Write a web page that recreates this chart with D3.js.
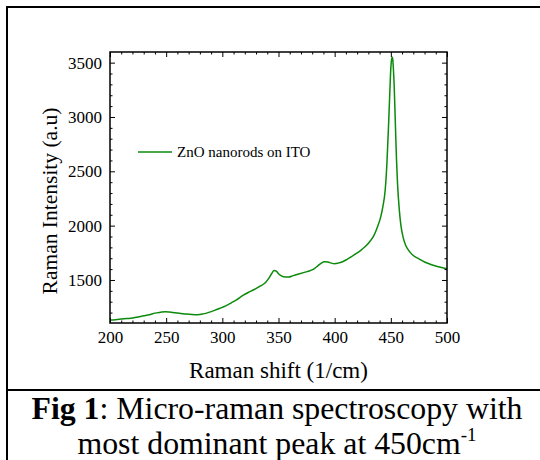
<!DOCTYPE html>
<html>
<head>
<meta charset="utf-8">
<script src="https://cdn.jsdelivr.net/npm/d3@7/dist/d3.min.js"></script>
<style>
  html, body { margin: 0; padding: 0; background: #fff; }
  svg { display: block; }
  svg text { font-family: "Liberation Serif", "Times New Roman", serif; fill: #000; }
</style>
</head>
<body>
<svg id="chart" width="540" height="460"></svg>
<script>
// Raman spectrum of ZnO nanorods grown on ITO
const shift = [200, 205, 210, 215, 220, 225, 230, 235, 240, 245, 249, 253, 258, 263, 268, 273, 278, 283, 288, 293,
  298, 303, 308, 313, 318, 323, 328, 333, 338, 341, 344, 346, 348, 350, 353, 356, 359, 363, 368, 373,
  378, 382, 385, 388, 391, 394, 397, 400, 403, 407, 411, 415, 419, 423, 427, 431, 435, 438, 441, 443,
  445, 446.5, 448, 449, 450, 451, 451.5, 452, 453, 454, 455, 456, 457.5, 459, 461, 463, 466, 470, 475, 480,
  485, 490, 495, 500];
const intensity = [1132, 1135, 1140, 1145, 1150, 1160, 1170, 1180, 1195, 1203, 1208, 1205, 1198, 1192, 1186, 1182, 1180, 1188, 1202, 1220,
  1240, 1262, 1290, 1320, 1355, 1385, 1410, 1440, 1472, 1510, 1560, 1588, 1582, 1558, 1535, 1527, 1527, 1540, 1555, 1570,
  1585, 1605, 1630, 1655, 1668, 1665, 1655, 1650, 1655, 1668, 1690, 1715, 1742, 1770, 1805, 1850, 1910, 1985, 2080, 2180,
  2330, 2570, 2930, 3200, 3450, 3545, 3550, 3490, 3280, 2950, 2620, 2380, 2150, 2000, 1890, 1825, 1770, 1725, 1695, 1665,
  1645, 1628, 1615, 1602];

const seriesName = "ZnO nanorods on ITO";
const xMajor = [200, 250, 300, 350, 400, 450, 500];
const yMajor = [1500, 2000, 2500, 3000, 3500];
const xTitle = "Raman shift (1/cm)";
const yTitle = "Raman Intensity (a.u)";

const SERIF = "Liberation Serif, Times New Roman, serif";
const svg = d3.select("#chart").attr("font-family", SERIF);
const plot = { left: 110, right: 447, top: 52, bottom: 323 };

const x = d3.scaleLinear().domain([200, 500]).range([plot.left, plot.right]);
const y = d3.scaleLinear().domain([1104, 3598]).range([plot.bottom, plot.top]);

const xMinor = d3.range(200, 501, 10).filter(v => !xMajor.includes(v));
const yMinor = d3.range(1200, 3599, 100).filter(v => !yMajor.includes(v));

// figure frame: left and top rules plus the caption divider
svg.append("line").attr("x1", 7).attr("y1", 6).attr("x2", 7).attr("y2", 460)
  .attr("stroke", "#000").attr("stroke-width", 2);
svg.append("line").attr("x1", 6).attr("y1", 7).attr("x2", 540).attr("y2", 7)
  .attr("stroke", "#000").attr("stroke-width", 2);
svg.append("line").attr("x1", 6).attr("y1", 390).attr("x2", 540).attr("y2", 390)
  .attr("stroke", "#000").attr("stroke-width", 2);

// spectrum
const line = d3.line().x((d, i) => x(shift[i])).y(d => y(d)).curve(d3.curveMonotoneX);
svg.append("path").datum(intensity)
  .attr("d", line)
  .attr("fill", "none")
  .attr("stroke", "#0b8a0b")
  .attr("stroke-width", 1.5)
  .attr("stroke-linejoin", "round");

// axes with inward ticks on all four sides
function styleAxis(g) {
  g.attr("font-family", SERIF).attr("font-size", 17);
  g.select(".domain").remove();
  g.selectAll(".tick line").attr("stroke", "#000").attr("stroke-width", 1);
  g.selectAll(".tick text").attr("font-family", SERIF).attr("fill", "#000");
}

const axes = [
  [d3.axisBottom, x, "translate(0," + plot.bottom + ")", true],
  [d3.axisTop, x, "translate(0," + plot.top + ")", false],
  [d3.axisLeft, y, "translate(" + plot.left + ",0)", true],
  [d3.axisRight, y, "translate(" + plot.right + ",0)", false]
];
axes.forEach(([make, scale, tr, labelled]) => {
  const majors = scale === x ? xMajor : yMajor;
  const minors = scale === x ? xMinor : yMinor;
  svg.append("g").attr("transform", tr)
    .call(make(scale).tickValues(minors).tickSize(-2.5).tickFormat(""))
    .call(styleAxis);
  svg.append("g").attr("transform", tr)
    .call(make(scale).tickValues(majors).tickSize(-5).tickPadding(8)
      .tickFormat(labelled ? d3.format("d") : ""))
    .call(styleAxis);
});

// plot border
svg.append("rect")
  .attr("x", plot.left).attr("y", plot.top)
  .attr("width", plot.right - plot.left).attr("height", plot.bottom - plot.top)
  .attr("fill", "none").attr("stroke", "#000").attr("stroke-width", 1.5);

// legend
svg.append("line").attr("x1", 138).attr("x2", 172).attr("y1", 152).attr("y2", 152)
  .attr("stroke", "#0b8a0b").attr("stroke-width", 1.5);
svg.append("text").attr("x", 177).attr("y", 157).attr("font-size", 15).text(seriesName);

// axis titles
svg.append("text").attr("x", (plot.left + plot.right) / 2).attr("y", 378)
  .attr("text-anchor", "middle").attr("font-size", 23).text(xTitle);
svg.append("text").attr("transform", "translate(57,201) rotate(-90)")
  .attr("text-anchor", "middle").attr("font-size", 21.5).text(yTitle);

// caption
const cap1 = svg.append("text").attr("x", 277).attr("y", 419)
  .attr("text-anchor", "middle").attr("font-size", 31.8);
cap1.append("tspan").attr("font-weight", "bold").text("Fig 1");
cap1.append("tspan").text(": Micro-raman spectroscopy with");

const cap2 = svg.append("text").attr("x", 277).attr("y", 454)
  .attr("text-anchor", "middle").attr("font-size", 31.8);
cap2.append("tspan").text("most dominant peak at 450cm");
cap2.append("tspan").attr("dy", -13).attr("font-size", 19).text("-1");
</script>
</body>
</html>
